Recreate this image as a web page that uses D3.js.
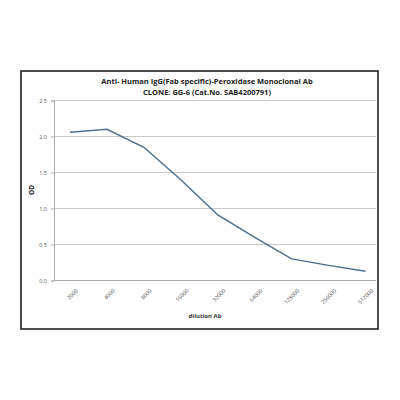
<!DOCTYPE html>
<html>
<head>
<meta charset="utf-8">
<script src="https://cdn.jsdelivr.net/npm/d3@7"></script>
<style>
  body { margin: 0; background: #fff; }
  text { font-family: "Open Sans", "Liberation Sans", sans-serif; }
</style>
</head>
<body>
<div id="chart"></div>
<script>
// Chart data
const dilutions = ["2000", "4000", "8000", "16000", "32000", "64000", "128000", "256000", "512000"];
const odValues = [2.06, 2.10, 1.85, 1.40, 0.91, 0.60, 0.30, 0.21, 0.13];
const yTicks = [0.0, 0.5, 1.0, 1.5, 2.0, 2.5];
const titleLines = ["Anti- Human IgG(Fab specific)-Peroxidase Monoclonal Ab", "CLONE: GG-6 (Cat.No. SAB4200791)"];

const svg = d3.select("#chart")
    .append("svg")
    .attr("width", 400)
    .attr("height", 400);

// outer frame of the pasted chart
svg.append("rect")
    .attr("x", 21).attr("y", 71)
    .attr("width", 357).attr("height", 258)
    .attr("fill", "#fff")
    .attr("stroke", "#222")
    .attr("stroke-width", 1.6);

const plot = { left: 54, right: 376, top: 100.5, bottom: 280.5 };

const x = d3.scalePoint()
    .domain(dilutions)
    .range([70, 365.5]);

const y = d3.scaleLinear()
    .domain([0, 2.5])
    .range([plot.bottom, plot.top]);

// gridlines
svg.append("g")
    .selectAll("line")
    .data(yTicks.slice(1))
    .enter()
    .append("line")
    .attr("x1", plot.left)
    .attr("x2", plot.right)
    .attr("y1", d => y(d))
    .attr("y2", d => y(d))
    .attr("stroke", "#c8c8c8")
    .attr("stroke-width", 1);

// y axis
const yAxis = d3.axisLeft(y)
    .tickValues(yTicks)
    .tickFormat(d3.format(".1f"))
    .tickSize(3)
    .tickPadding(4);

const yg = svg.append("g")
    .attr("transform", `translate(${plot.left},0)`)
    .call(yAxis);
yg.select(".domain").attr("stroke", "#aaa");
yg.selectAll(".tick line").attr("stroke", "#aaa");
yg.selectAll("text")
    .attr("font-size", "5.5px")
    .attr("fill", "#555");

// x axis
const xAxis = d3.axisBottom(x)
    .tickSize(0)
    .tickPadding(5);

const xg = svg.append("g")
    .attr("transform", `translate(0,${plot.bottom})`)
    .call(xAxis);
xg.select(".domain")
    .attr("d", `M${plot.left},0H${plot.right}`)
    .attr("stroke", "#aaa");
xg.selectAll("text")
    .attr("font-size", "5.5px")
    .attr("fill", "#555")
    .attr("text-anchor", "end")
    .attr("dy", "0.3em")
    .attr("transform", "translate(3,6) rotate(-45)");

// data line
const line = d3.line()
    .x((d, i) => x(dilutions[i]))
    .y(d => y(d));

svg.append("path")
    .datum(odValues)
    .attr("fill", "none")
    .attr("stroke", "#4f6f8f")
    .attr("stroke-width", 1.5)
    .attr("d", line);

// title
svg.append("g")
    .selectAll("text")
    .data(titleLines)
    .enter()
    .append("text")
    .attr("x", 207)
    .attr("y", (d, i) => 83.5 + i * 11.5)
    .attr("text-anchor", "middle")
    .attr("font-size", "7.5px")
    .attr("font-weight", "bold")
    .attr("fill", "#222")
    .text(d => d);

// axis titles
svg.append("text")
    .attr("transform", "translate(34,190) rotate(-90)")
    .attr("text-anchor", "middle")
    .attr("font-size", "6.5px")
    .attr("font-weight", "bold")
    .attr("fill", "#222")
    .text("OD");

svg.append("text")
    .attr("x", 205)
    .attr("y", 318)
    .attr("text-anchor", "middle")
    .attr("font-size", "6px")
    .attr("font-weight", "bold")
    .attr("fill", "#333")
    .text("dilution Ab");
</script>
</body>
</html>
